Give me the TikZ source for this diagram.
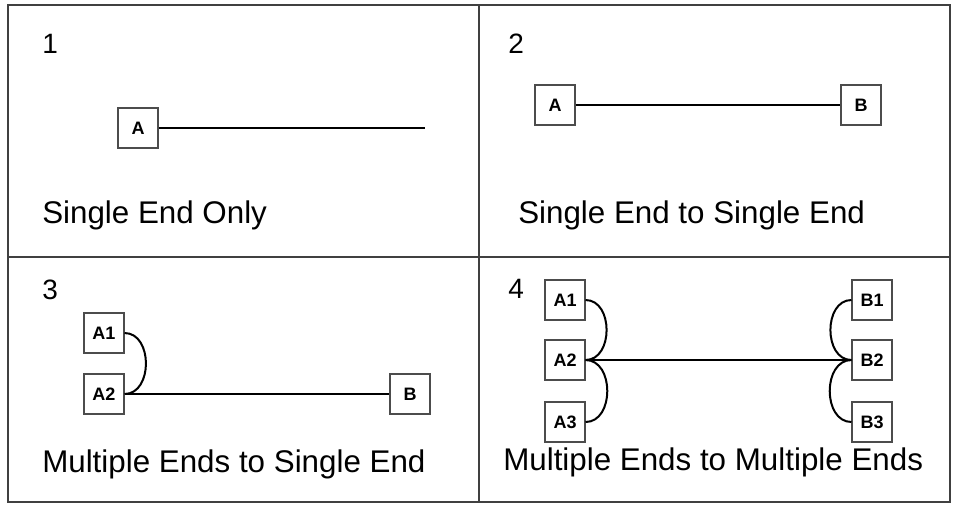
\documentclass[tikz,border=0pt]{standalone}
\usepackage{fontspec}
\setmainfont{Liberation Sans}
\usepackage{tikz}
\usetikzlibrary{positioning}

\begin{document}
\begin{tikzpicture}[
  x=0.75pt, y=-0.75pt,
  frame/.style={draw=black!75, line width=1.4pt},
  endbox/.style={draw=black!70, line width=0.8pt, fill=white, minimum size=30pt, inner sep=0pt,
    font=\fontsize{13.5}{16}\selectfont\bfseries},
  cable/.style={draw=black, line width=1.5pt},
  num/.style={anchor=base west, inner sep=0pt, font=\fontsize{21}{25}\selectfont},
  caption/.style={anchor=base west, inner sep=0pt, font=\fontsize{23.5}{28}\selectfont}
]
  \useasboundingbox (0,0) rectangle (955,504);
  \draw[frame] (8,5) rectangle (950,502);
  \draw[frame] (479,5) -- (479,502);
  \draw[frame] (8,257) -- (950,257);

  % 1
  \node[num] (n1) at (42,53) {1};
  \node[endbox] (oneA) at (138,128) {A};
  \coordinate (oneEnd) at (425,128);
  \draw[cable] (oneA.east) -- (oneEnd);
  \node[caption] (t1) at (42,223) {Single End Only};

  % 2
  \node[num] (n2) at (508,53) {2};
  \node[endbox] (twoA) at (555,105) {A};
  \node[endbox] (twoB) at (861,105) {B};
  \draw[cable] (twoA) -- (twoB);
  \node[caption] (t2) at (518,223) {Single End to Single End};

  % 3
  \node[num] (n3) at (42,299) {3};
  \node[endbox] (threeA1) at (104,333) {A1};
  \node[endbox] (threeA2) at (104,394) {A2};
  \node[endbox] (threeB) at (410,394) {B};
  \draw[cable] (threeA1.east) to[out=0, in=0, looseness=1.2] (threeA2.east);
  \draw[cable] (threeA2) -- (threeB);
  \node[caption] (t3) at (42,472) {Multiple Ends to Single End};

  % 4
  \node[num] (n4) at (508,298) {4};
  \node[endbox] (fourA1) at (565,300) {A1};
  \node[endbox] (fourA2) at (565,360) {A2};
  \node[endbox] (fourA3) at (565,422) {A3};
  \node[endbox] (fourB1) at (872,300) {B1};
  \node[endbox] (fourB2) at (872,360) {B2};
  \node[endbox] (fourB3) at (872,422) {B3};
  \draw[cable] (fourA1.east) to[out=0, in=0, looseness=1.2] (fourA2.east);
  \draw[cable] (fourA3.east) to[out=0, in=0, looseness=1.2] (fourA2.east);
  \draw[cable] (fourB1.west) to[out=180, in=180, looseness=1.2] (fourB2.west);
  \draw[cable] (fourB3.west) to[out=180, in=180, looseness=1.2] (fourB2.west);
  \draw[cable] (fourA2) -- (fourB2);
  \node[caption] (t4) at (503,470) {Multiple Ends to Multiple Ends};
\end{tikzpicture}
\end{document}
